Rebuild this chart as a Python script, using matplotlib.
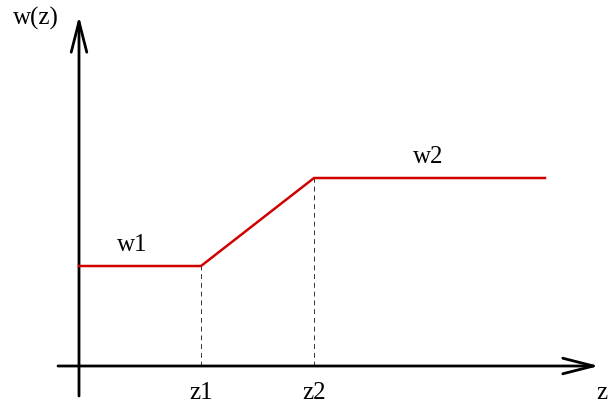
import matplotlib
matplotlib.use('Agg')
import matplotlib.pyplot as plt

# piecewise weight function, in pixel-ish units measured from the axes origin
z_points = [0, 122, 235, 466]
w_points = [100, 100, 188, 188]
z_breaks = [122, 235]
w_breaks = [100, 188]
break_labels = ['z1', 'z2']
level_labels = ['w1', 'w2']
level_label_z = [53, 349]

plt.rcParams['font.family'] = ['Liberation Serif', 'DejaVu Serif']

fig = plt.figure(figsize=(6.16, 4.07), dpi=100)
ax = fig.add_axes([0, 0, 1, 1])
ax.set_xlim(-79, 537)
ax.set_ylim(-41, 366)
ax.axis('off')

axis_kw = dict(arrowstyle='->, head_length=22, head_width=5.6', mutation_scale=1,
               lw=2.0, color='black', shrinkA=0, shrinkB=0)
# z axis and w axis
ax.annotate('', xy=(520, 0), xytext=(-21, 0), arrowprops=axis_kw)
ax.annotate('', xy=(0, 350), xytext=(0, -30), arrowprops=axis_kw)

# dashed guides down to the z axis
for zb, wb in zip(z_breaks, w_breaks):
    ax.plot([zb, zb], [0, wb], color='#333333', lw=0.7, ls=(0, (5, 4)))

ax.plot(z_points, w_points, color='#d00000', lw=1.8, solid_joinstyle='miter', zorder=3)

fs = 18
for zb, lab in zip(z_breaks, break_labels):
    ax.text(zb, -27, lab, fontsize=fs, ha='center', va='center')
ax.text(523, -27, 'z', fontsize=fs, ha='center', va='center')
ax.text(-43, 348, 'w(z)', fontsize=fs, ha='center', va='center')
for zl, wl, lab in zip(level_label_z, w_breaks, level_labels):
    ax.text(zl, wl + 21, lab, fontsize=fs, ha='center', va='center')

fig.savefig('out.png', dpi=100)
